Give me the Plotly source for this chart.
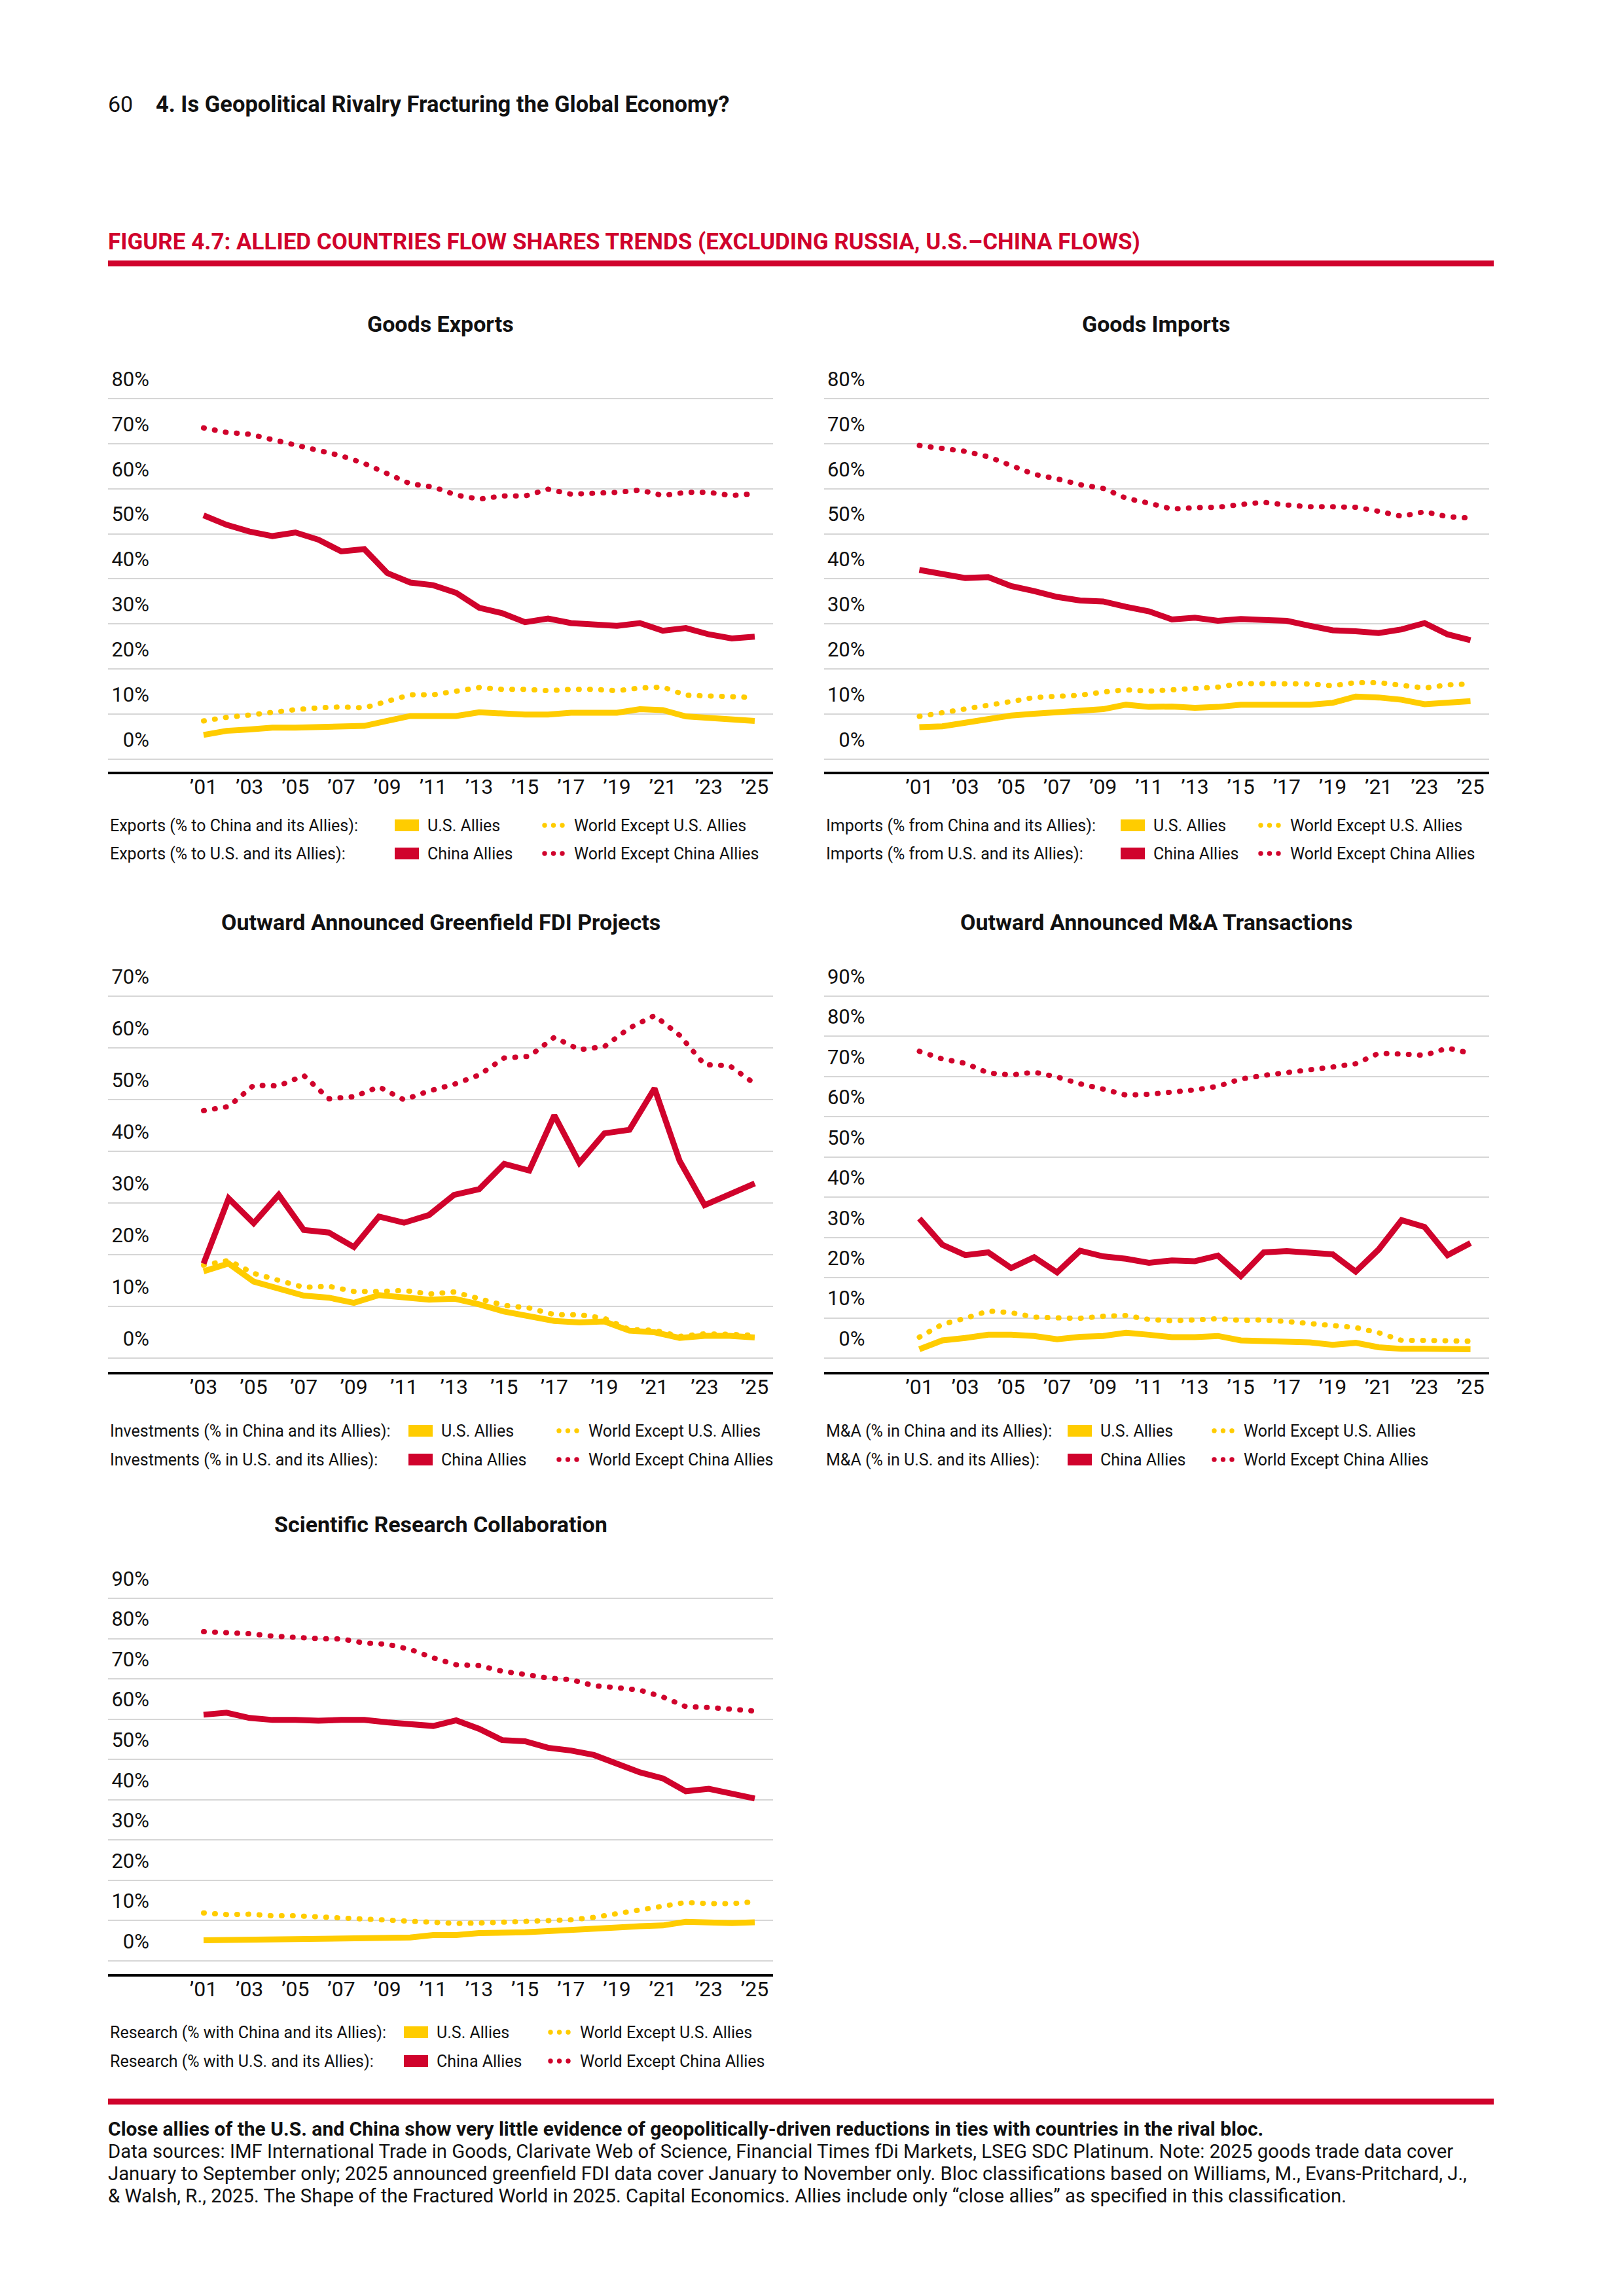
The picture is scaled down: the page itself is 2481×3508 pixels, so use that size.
import plotly.graph_objects as go

# ---------------- data ----------------
years_01 = list(range(2001, 2026))
years_03 = list(range(2003, 2026))
tick_years_01 = [2001, 2003, 2005, 2007, 2009, 2011, 2013, 2015, 2017, 2019, 2021, 2023, 2025]
tick_labels_01 = ["’01", "’03", "’05", "’07", "’09", "’11", "’13", "’15", "’17", "’19", "’21", "’23", "’25"]
tick_years_03 = [2003, 2005, 2007, 2009, 2011, 2013, 2015, 2017, 2019, 2021, 2023, 2025]
tick_labels_03 = ["’03", "’05", "’07", "’09", "’11", "’13", "’15", "’17", "’19", "’21", "’23", "’25"]

# Goods Exports
exp_us_allies = [5.4, 6.3, 6.6, 7.0, 7.0, 7.1, 7.1, 7.4, 8.5, 9.6, 9.6, 9.6, 10.4, 10.1, 9.9, 9.9, 10.3, 10.3, 10.3, 11.1, 10.9, 9.5, 9.2, 8.8, 8.5]
exp_world_ex_us = [8.5, 9.3, 9.8, 10.5, 11.0, 11.4, 11.6, 11.4, 13.0, 14.3, 14.3, 15.2, 15.9, 15.5, 15.5, 15.2, 15.5, 15.5, 15.2, 15.8, 16.0, 14.2, 14.0, 13.8, 13.7]
exp_china_allies = [54.1, 52.0, 50.5, 49.5, 50.3, 48.7, 46.1, 46.6, 41.3, 39.2, 38.6, 36.9, 33.6, 32.4, 30.4, 31.2, 30.2, 30.0, 29.6, 30.2, 28.5, 29.1, 27.7, 26.8, 27.2]
exp_world_ex_china = [73.5, 72.5, 72.1, 70.9, 69.5, 68.3, 67.3, 65.6, 63.5, 61.1, 60.4, 58.6, 57.7, 58.4, 58.4, 59.9, 58.8, 59.0, 59.2, 59.7, 58.5, 59.2, 59.2, 58.5, 58.9]

# Goods Imports
imp_us_allies = [7.1, 7.3, 8.1, 9.0, 9.7, 10.1, 10.5, 10.7, 11.1, 12.1, 11.6, 11.7, 11.4, 11.6, 12.1, 12.1, 12.1, 12.1, 12.5, 13.9, 13.7, 13.2, 12.2, 12.6, 12.9]
imp_world_ex_us = [9.5, 10.3, 11.0, 11.8, 12.8, 13.7, 14.0, 14.2, 14.9, 15.4, 15.1, 15.4, 15.5, 16.0, 16.8, 16.8, 16.8, 16.7, 16.3, 17.0, 17.0, 16.5, 15.8, 16.5, 16.7]
imp_china_allies = [42.0, 41.1, 40.2, 40.4, 38.4, 37.3, 36.0, 35.2, 35.0, 33.8, 32.8, 31.0, 31.4, 30.7, 31.1, 30.9, 30.7, 29.6, 28.6, 28.4, 28.0, 28.8, 30.2, 27.7, 26.4]
imp_world_ex_china = [69.6, 68.9, 68.3, 67.1, 65.1, 63.2, 62.2, 60.9, 60.1, 57.9, 56.8, 55.5, 55.8, 55.9, 56.5, 57.0, 56.4, 56.0, 56.0, 55.9, 55.0, 53.9, 54.9, 53.8, 53.5]

# Outward Announced Greenfield FDI Projects (2003-2025)
fdi_us_allies = [16.8, 18.3, 14.8, 13.4, 12.1, 11.7, 10.7, 12.2, 11.8, 11.3, 11.5, 10.4, 9.0, 8.0, 7.2, 6.9, 7.1, 5.3, 5.0, 3.9, 4.3, 4.3, 4.0]
fdi_world_ex_us = [18.0, 18.9, 16.4, 15.0, 13.7, 13.9, 12.9, 12.9, 13.1, 12.4, 12.8, 11.5, 10.2, 9.7, 8.4, 8.4, 7.7, 5.5, 5.4, 4.2, 4.7, 4.6, 4.4]
fdi_china_allies = [18.3, 30.9, 26.1, 31.6, 24.8, 24.3, 21.5, 27.4, 26.2, 27.7, 31.6, 32.7, 37.6, 36.3, 47.0, 37.8, 43.5, 44.2, 52.2, 38.2, 29.6, 31.6, 33.8]
fdi_world_ex_china = [47.9, 48.7, 52.8, 52.7, 54.7, 50.2, 50.6, 52.5, 50.0, 51.7, 53.0, 54.8, 58.1, 58.4, 62.1, 59.7, 60.3, 63.9, 66.3, 62.5, 56.8, 56.6, 53.1]

# Outward Announced M&A Transactions
ma_us_allies = [2.2, 4.4, 5.0, 5.8, 5.8, 5.5, 4.7, 5.3, 5.5, 6.3, 5.8, 5.2, 5.2, 5.5, 4.4, 4.2, 4.2, 3.9, 3.3, 3.8, 2.7, 2.3, 2.3, 2.3, 2.2]
ma_world_ex_us = [5.2, 8.4, 9.9, 11.7, 11.3, 10.2, 10.0, 9.9, 10.4, 10.6, 9.6, 9.3, 9.5, 9.8, 9.4, 9.5, 9.1, 8.6, 8.0, 7.6, 6.3, 4.4, 4.4, 4.2, 4.2]
ma_china_allies = [34.7, 28.2, 25.6, 26.3, 22.4, 25.1, 21.3, 26.7, 25.3, 24.7, 23.7, 24.3, 24.1, 25.5, 20.4, 26.3, 26.6, 26.3, 25.8, 21.5, 27.0, 34.3, 32.6, 25.6, 28.6]
ma_world_ex_china = [76.3, 74.4, 73.3, 70.9, 70.4, 71.1, 69.9, 68.2, 66.9, 65.4, 65.6, 66.0, 66.7, 67.6, 69.4, 70.3, 70.9, 71.7, 72.4, 73.2, 75.8, 75.6, 75.3, 77.1, 75.8]

# Scientific Research Collaboration
res_us_allies = [5.1, 5.2, 5.2, 5.4, 5.4, 5.6, 5.6, 5.6, 5.8, 5.8, 6.4, 6.4, 6.9, 6.9, 7.1, 7.4, 7.6, 7.9, 8.3, 8.6, 8.8, 9.7, 9.4, 9.4, 9.6]
res_world_ex_us = [11.9, 11.5, 11.6, 11.2, 11.2, 10.9, 10.7, 10.3, 10.0, 9.7, 9.5, 9.3, 9.4, 9.6, 9.7, 9.8, 10.2, 10.8, 11.7, 12.8, 13.6, 14.5, 14.2, 14.2, 14.7]
res_china_allies = [61.1, 61.6, 60.3, 59.8, 59.8, 59.6, 59.8, 59.8, 59.2, 58.9, 58.3, 59.7, 57.6, 54.8, 54.5, 52.9, 52.2, 51.1, 49.0, 46.8, 45.3, 42.1, 42.7, 41.6, 40.3]
res_world_ex_china = [81.7, 81.5, 81.2, 80.6, 80.2, 80.0, 79.9, 78.9, 78.6, 77.3, 75.2, 73.5, 73.3, 71.9, 71.1, 70.2, 69.8, 68.3, 67.8, 67.2, 65.5, 63.1, 62.9, 62.4, 62.0]

series_names = ["U.S. Allies", "World Except U.S. Allies", "China Allies", "World Except China Allies"]

# ---------------- styling / layout ----------------
W, H = 2481, 3508
RED = "#D0032C"
YEL = "#FFCC00"
INK = "#111111"
GRID = "#d6d6d6"
FONT = "Roboto"
PAGE_OFF = 8  # default page margin around the plot div


def fx(p):
    return (p - PAGE_OFF) / W


def fy(p):
    return 1 - (p - PAGE_OFF) / H


panels = [
    dict(title="Goods Exports", x0=165, top_val=80, zero_px=1160, per10=68.875, bot_px=1179,
         years=years_01, tv=tick_years_01, tt=tick_labels_01,
         data=[exp_us_allies, exp_world_ex_us, exp_china_allies, exp_world_ex_china],
         title_y=495, leg_y=(1261, 1304),
         leg_rows=("Exports (% to China and its Allies):", "Exports (% to U.S. and its Allies):"),
         box=438, dots=667),
    dict(title="Goods Imports", x0=1258.5, top_val=80, zero_px=1160, per10=68.875, bot_px=1179,
         years=years_01, tv=tick_years_01, tt=tick_labels_01,
         data=[imp_us_allies, imp_world_ex_us, imp_china_allies, imp_world_ex_china],
         title_y=495, leg_y=(1261, 1304),
         leg_rows=("Imports (% from China and its Allies):", "Imports (% from U.S. and its Allies):"),
         box=453.5, dots=667.5),
    dict(title="Outward Announced Greenfield FDI Projects", x0=165, top_val=70, zero_px=2075, per10=78.93, bot_px=2095.5,
         years=years_03, tv=tick_years_03, tt=tick_labels_03,
         data=[fdi_us_allies, fdi_world_ex_us, fdi_china_allies, fdi_world_ex_china],
         title_y=1409, leg_y=(2186, 2230),
         leg_rows=("Investments (% in China and its Allies):", "Investments (% in U.S. and its Allies):"),
         box=459, dots=689),
    dict(title="Outward Announced M&A Transactions", x0=1258.5, top_val=90, zero_px=2075, per10=61.44, bot_px=2095.5,
         years=years_01, tv=tick_years_01, tt=tick_labels_01,
         data=[ma_us_allies, ma_world_ex_us, ma_china_allies, ma_world_ex_china],
         title_y=1409, leg_y=(2186, 2230),
         leg_rows=("M&A (% in China and its Allies):", "M&A (% in U.S. and its Allies):"),
         box=372.5, dots=596.5),
    dict(title="Scientific Research Collaboration", x0=165, top_val=90, zero_px=2996, per10=61.56, bot_px=3016,
         years=years_01, tv=tick_years_01, tt=tick_labels_01,
         data=[res_us_allies, res_world_ex_us, res_china_allies, res_world_ex_china],
         title_y=2329, leg_y=(3105, 3149),
         leg_rows=("Research (% with China and its Allies):", "Research (% with U.S. and its Allies):"),
         box=452, dots=676),
]

PANEL_W = 1016
FIRST_OFF = 146   # px from panel left to first year
LAST_OFF = 988    # px from panel left to last year
LEG_FONT = 25

fig = go.Figure()
annotations = []
shapes = []

for i, p in enumerate(panels, start=1):
    xa = "x" if i == 1 else f"x{i}"
    ya = "y" if i == 1 else f"y{i}"
    yrs = p["years"]
    n = yrs[-1] - yrs[0]
    per_yr = (LAST_OFF - FIRST_OFF) / n
    xr = [yrs[0] - FIRST_OFF / per_yr, yrs[-1] + (PANEL_W - LAST_OFF) / per_yr]
    ytop = p["top_val"] + 0.6
    top_px = p["zero_px"] - ytop * p["per10"] / 10
    yr = [-(p["bot_px"] - p["zero_px"]) / p["per10"] * 10, ytop]

    colors = [YEL, YEL, RED, RED]
    for k, vals in enumerate(p["data"]):
        dotted = k % 2 == 1
        fig.add_trace(go.Scatter(
            x=yrs, y=vals, mode="lines", name=series_names[k],
            xaxis=xa, yaxis=ya, showlegend=False, hoverinfo="skip",
            uid=(f"dot{i}{k}" if dotted else f"sol{i}{k}"),
            line=dict(color=colors[k], width=(8 if dotted else 9),
                      dash=("1px,16px" if dotted else "solid"), shape="linear"),
        ))

    xkey = "xaxis" if i == 1 else f"xaxis{i}"
    ykey = "yaxis" if i == 1 else f"yaxis{i}"
    fig.layout[xkey] = dict(
        domain=[fx(p["x0"]), fx(p["x0"] + PANEL_W)], anchor=ya, range=xr, automargin=False,
        showgrid=False, zeroline=False, showline=True, linecolor="#000000", linewidth=4,
        ticks="", tickvals=p["tv"], ticktext=p["tt"], ticklabelstandoff=-8,
        tickfont=dict(family=FONT, size=32, color=INK), fixedrange=True,
    )
    fig.layout[ykey] = dict(
        domain=[fy(p["bot_px"]), fy(top_px)], anchor=xa, range=yr, automargin=False,
        showgrid=True, gridcolor=GRID, gridwidth=2, zeroline=False, showline=False,
        ticks="", tickvals=list(range(0, p["top_val"] + 1, 10)),
        ticktext=[f"{v}%" for v in range(0, p["top_val"] + 1, 10)],
        ticklabelposition="outside", ticklabelstandoff=-64, ticklabelshift=-30,
        tickfont=dict(family=FONT, size=31, color=INK), fixedrange=True,
    )

    # panel title
    annotations.append(dict(
        text=f"<b>{p['title']}</b>", xref="paper", yref="paper",
        x=fx(p["x0"] + PANEL_W / 2), y=fy(p["title_y"]), xanchor="center", yanchor="middle",
        showarrow=False, font=dict(family=FONT, size=34, color=INK)))

    # legend rows
    row_items = [(YEL, series_names[0], series_names[1]), (RED, series_names[2], series_names[3])]
    for r, (col, solid_name, dot_name) in enumerate(row_items):
        cy = p["leg_y"][r]
        annotations.append(dict(
            text=p["leg_rows"][r], xref="paper", yref="paper",
            x=fx(p["x0"] + 1), y=fy(cy), xanchor="left", yanchor="middle",
            showarrow=False, font=dict(family=FONT, size=LEG_FONT, color=INK)))
        bx = p["x0"] + p["box"]
        shapes.append(dict(type="rect", xref="paper", yref="paper",
                           x0=fx(bx), x1=fx(bx + 37), y0=fy(cy + 9), y1=fy(cy - 9),
                           fillcolor=col, line=dict(width=0)))
        annotations.append(dict(
            text=solid_name, xref="paper", yref="paper",
            x=fx(bx + 48), y=fy(cy), xanchor="left", yanchor="middle",
            showarrow=False, font=dict(family=FONT, size=LEG_FONT, color=INK)))
        dx = p["x0"] + p["dots"]
        for d in range(3):
            cx = dx + d * 13.5
            shapes.append(dict(type="circle", xref="paper", yref="paper",
                               x0=fx(cx - 3.7), x1=fx(cx + 3.7), y0=fy(cy + 3.7), y1=fy(cy - 3.7),
                               fillcolor=col, line=dict(width=0)))
        annotations.append(dict(
            text=dot_name, xref="paper", yref="paper",
            x=fx(dx + 43), y=fy(cy), xanchor="left", yanchor="middle",
            showarrow=False, font=dict(family=FONT, size=LEG_FONT, color=INK)))

# page header
annotations.append(dict(text="60", xref="paper", yref="paper", x=fx(163), y=fy(159),
                        xanchor="left", yanchor="middle", showarrow=False,
                        font=dict(family=FONT, size=34, color=INK)))
annotations.append(dict(text="<b>4. Is Geopolitical Rivalry Fracturing the Global Economy?</b>",
                        xref="paper", yref="paper", x=fx(236), y=fy(159),
                        xanchor="left", yanchor="middle", showarrow=False,
                        font=dict(family=FONT, size=34.5, color=INK)))
annotations.append(dict(text="<b>FIGURE 4.7: ALLIED COUNTRIES FLOW SHARES TRENDS (EXCLUDING RUSSIA, U.S.–CHINA FLOWS)</b>",
                        xref="paper", yref="paper", x=fx(163), y=fy(369),
                        xanchor="left", yanchor="middle", showarrow=False,
                        font=dict(family=FONT, size=35, color=RED)))
shapes.append(dict(type="rect", xref="paper", yref="paper", x0=fx(165), x1=fx(2282),
                   y0=fy(407), y1=fy(398), fillcolor=RED, line=dict(width=0)))
shapes.append(dict(type="rect", xref="paper", yref="paper", x0=fx(165), x1=fx(2282),
                   y0=fy(3215.5), y1=fy(3206.5), fillcolor=RED, line=dict(width=0)))

footer = [
    ("<b>Close allies of the U.S. and China show very little evidence of geopolitically-driven reductions in ties with countries in the rival bloc.</b>", 3252, 30),
    ("Data sources: IMF International Trade in Goods, Clarivate Web of Science, Financial Times fDi Markets, LSEG SDC Platinum. Note: 2025 goods trade data cover", 3287, 29.3),
    ("January to September only; 2025 announced greenfield FDI data cover January to November only. Bloc classifications based on Williams, M., Evans-Pritchard, J.,", 3321, 29.3),
    ("& Walsh, R., 2025. The Shape of the Fractured World in 2025. Capital Economics. Allies include only “close allies” as specified in this classification.", 3355, 29.3),
]
for txt, yy, fs in footer:
    annotations.append(dict(text=txt, xref="paper", yref="paper", x=fx(163), y=fy(yy),
                            xanchor="left", yanchor="middle", showarrow=False,
                            font=dict(family=FONT, size=fs, color=INK)))

fig.update_layout(
    width=W, height=H, autosize=False,
    margin=dict(l=0, r=0, t=0, b=0, pad=0, autoexpand=False),
    paper_bgcolor="white", plot_bgcolor="white",
    showlegend=False, annotations=annotations, shapes=shapes,
    font=dict(family=FONT, color=INK),
)

post = ("var s=document.createElement('style');"
        "s.textContent='g[class*=\"tracedot\"] path.js-line{stroke-linecap:round;}';"
        "document.head.appendChild(s);")
fig.write_html("out.html", post_script=post, config={"displayModeBar": False})
